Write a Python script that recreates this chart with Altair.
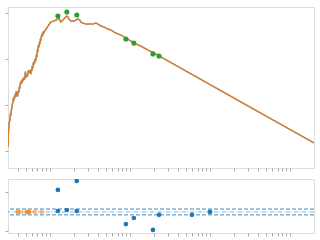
import altair as alt
import pandas as pd

# Model / spectrum curve (wavelength, log flux)
wl = [0.30, 0.303, 0.307, 0.311, 0.316, 0.321, 0.326, 0.330, 0.335, 0.340,
      0.345, 0.350, 0.355, 0.360, 0.365, 0.370, 0.376, 0.381, 0.387, 0.392,
      0.398, 0.404, 0.410, 0.416, 0.422, 0.428, 0.434, 0.440, 0.447, 0.453,
      0.460, 0.467, 0.473, 0.480, 0.487, 0.494, 0.501, 0.508, 0.516, 0.523,
      0.531, 0.538, 0.546, 0.554, 0.562, 0.570, 0.579, 0.587, 0.596, 0.604,
      0.613, 0.622, 0.631, 0.640, 0.649, 0.658, 0.668, 0.678, 0.688, 0.698,
      0.708, 0.718, 0.729, 0.740, 0.750, 0.761, 0.772, 0.783, 0.794, 0.806,
      0.818, 0.830, 0.841, 0.866, 0.917, 0.972,
      1.03, 1.12, 1.19, 1.26, 1.30, 1.33, 1.37, 1.45, 1.54, 1.63,
      1.68, 1.73, 1.83, 2.00, 2.11, 2.24, 2.37, 2.44, 2.59, 2.82,
      3.07, 3.45, 3.76, 3.98, 4.34, 4.73, 5.31, 5.79, 6.31, 7.08,
      7.72, 8.91, 10.3, 11.9, 13.7, 16.8, 20.0, 24.4, 77.2, 244,
      613, 1995]
flux = [-5.83, -5.30, -4.96, -4.75, -4.70, -4.40, -4.42, -4.20, -4.18, -3.95,
        -3.91, -3.70, -3.80, -3.62, -3.70, -3.50, -3.58, -3.40, -3.48, -3.65,
        -3.55, -3.38, -3.46, -3.20, -3.28, -3.02, -3.10, -2.95, -3.05, -2.88,
        -2.96, -2.82, -2.92, -2.78, -2.88, -2.55, -2.66, -2.80, -2.70, -2.78,
        -2.62, -2.50, -2.58, -2.48, -2.62, -2.55, -2.66, -2.45, -2.52, -2.30,
        -2.40, -2.15, -2.25, -2.08, -2.18, -1.98, -2.08, -1.82, -1.92, -1.60,
        -1.70, -1.40, -1.50, -1.28, -1.36, -1.12, -1.22, -0.98, -1.04, -0.86,
        -0.92, -0.80, -0.86, -0.78, -0.65, -0.52,
        -0.39, -0.35, -0.31, -0.26, -0.22, -0.31, -0.39, -0.31, -0.22, -0.13,
        -0.17, -0.26, -0.35, -0.35, -0.31, -0.26, -0.31, -0.39, -0.44, -0.48,
        -0.48, -0.48, -0.44, -0.48, -0.57, -0.61, -0.70, -0.74, -0.83, -0.91,
        -0.96, -1.09, -1.22, -1.35, -1.44, -1.61, -1.74, -1.91, -2.89, -3.87,
        -4.65, -5.65]

# Photometry points
phot_wl = [1.26, 1.63, 2.17, 8.91, 11.2, 19.4, 23.1]
phot_flux = [-0.13, 0.04, -0.09, -1.13, -1.31, -1.78, -1.87]
phot_err = [0.08, 0.08, 0.08, 0.04, 0.04, 0.04, 0.04]

# Residuals (photometry)
res_wl = [1.26, 1.26, 1.63, 2.17, 2.17, 8.91, 11.2, 19.4, 23.1, 59.6, 100]
res_val = [1.13, 0.05, 0.10, 1.59, 0.05, -0.62, -0.31, -0.92, -0.15, -0.15, 0.0]

# Residuals (spectrum)
res2_wl = [0.398, 0.434, 0.516, 0.546, 0.649, 0.794]
res2_val = [0.0, 0.0, 0.0, 0.0, 0.0, 0.0]
res2_alpha = [0.75, 0.45, 0.75, 0.9, 0.5, 0.5]

# Reference lines in residual panel
band_vals = [-0.15, 0.15]
center_val = [0.0]

x_ticks = [0.4, 0.5, 0.6, 0.7, 0.8, 0.9, 1, 2, 3, 4, 5, 6, 7, 8, 9, 10,
           20, 30, 40, 50, 60, 70, 80, 90, 100, 200, 300, 400, 500, 600,
           700, 800, 900, 1000]

W = 306
xdom = [0.30, 1995]
xscale = alt.Scale(type="log", domain=xdom, nice=False)
xaxis = alt.Axis(values=x_ticks, labels=False, title=None, domain=False,
                 grid=False, tickColor="#a8a8a8", tickSize=3)

curve = pd.DataFrame({"wl": wl, "flux": flux})
phot = pd.DataFrame({"wl": phot_wl, "flux": phot_flux,
                     "lo": [f - e for f, e in zip(phot_flux, phot_err)],
                     "hi": [f + e for f, e in zip(phot_flux, phot_err)]})
res = pd.DataFrame({"wl": res_wl, "val": res_val})
res2 = pd.DataFrame({"wl": res2_wl, "val": res2_val, "a": res2_alpha})

ytop = alt.Scale(domain=[-6.74, 0.26], nice=False, zero=False)
yaxis_top = alt.Axis(values=[-6, -5, -4, -3, -2, -1, 0], labels=False,
                     title=None, domain=False, grid=False,
                     tickColor="#a8a8a8", tickSize=3)

base_top = alt.Chart(curve)
line_blue = base_top.mark_line(color="#1f77b4", strokeWidth=1.2, clip=True).encode(
    x=alt.X("wl:Q", scale=xscale, axis=xaxis),
    y=alt.Y("flux:Q", scale=ytop, axis=yaxis_top))
line_orange = base_top.mark_line(color="#ff7f0e", strokeWidth=1.5, opacity=0.8,
                                 clip=True).encode(
    x=alt.X("wl:Q", scale=xscale), y=alt.Y("flux:Q", scale=ytop))
err = alt.Chart(phot).mark_rule(color="#2ca02c", strokeWidth=1).encode(
    x=alt.X("wl:Q", scale=xscale), y=alt.Y("lo:Q", scale=ytop), y2="hi:Q")
pts = alt.Chart(phot).mark_circle(color="#2ca02c", size=26, opacity=1).encode(
    x=alt.X("wl:Q", scale=xscale), y=alt.Y("flux:Q", scale=ytop))

top = alt.layer(line_blue, line_orange, err, pts).properties(width=W, height=161)

ybot = alt.Scale(domain=[-1.08, 1.69], nice=False, zero=False)
yaxis_bot = alt.Axis(values=[-1, 0, 1], labels=False, title=None, domain=False,
                     grid=False, tickColor="#a8a8a8", tickSize=3)

band = alt.Chart(pd.DataFrame({"v": band_vals})).mark_rule(
    color="#1f77b4", strokeWidth=1, strokeDash=[4, 2], opacity=0.85).encode(
    y=alt.Y("v:Q", scale=ybot, axis=yaxis_bot))
center = alt.Chart(pd.DataFrame({"v": center_val})).mark_rule(
    color="#1f77b4", strokeWidth=1, strokeDash=[4, 1.5, 1, 1.5], opacity=0.55).encode(
    y=alt.Y("v:Q", scale=ybot))
rpts = alt.Chart(res).mark_circle(color="#1f77b4", size=22, opacity=1, clip=True).encode(
    x=alt.X("wl:Q", scale=xscale, axis=xaxis), y=alt.Y("val:Q", scale=ybot))
r2pts = alt.Chart(res2).mark_circle(color="#ff7f0e", size=22, clip=True).encode(
    x=alt.X("wl:Q", scale=xscale), y=alt.Y("val:Q", scale=ybot),
    opacity=alt.Opacity("a:Q", scale=None, legend=None))

bottom = alt.layer(band, center, r2pts, rpts).properties(width=W, height=54)

chart = alt.vconcat(top, bottom, spacing=11, bounds="flush").properties(
    padding={"left": 4, "top": 6, "right": 0, "bottom": 0},
).configure_view(stroke="#c4c4c4", strokeWidth=2).configure(background="white")

chart.save("out.html", embed_options={"renderer": "svg", "actions": False})
